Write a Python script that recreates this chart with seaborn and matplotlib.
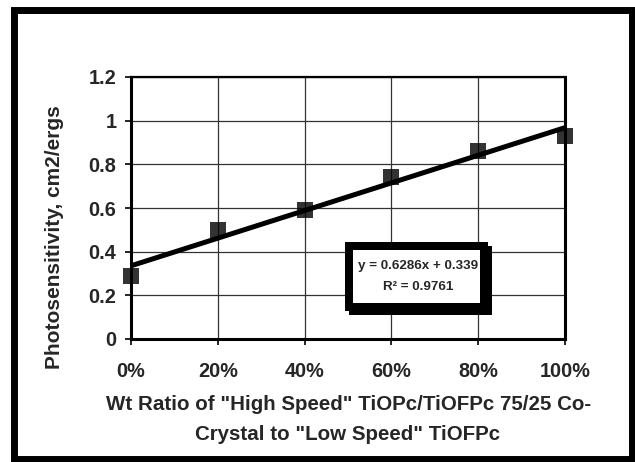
import numpy as np
import seaborn as sns
import matplotlib.pyplot as plt
from matplotlib.patches import Rectangle

# data
wt_ratio = [0.0, 0.2, 0.4, 0.6, 0.8, 1.0]
photosens = [0.29, 0.50, 0.59, 0.74, 0.86, 0.93]
x_ticks = [0.0, 0.2, 0.4, 0.6, 0.8, 1.0]
x_tick_labels = ["0%", "20%", "40%", "60%", "80%", "100%"]
y_ticks = [0, 0.2, 0.4, 0.6, 0.8, 1.0, 1.2]
y_tick_labels = ["0", "0.2", "0.4", "0.6", "0.8", "1", "1.2"]
fit_text = ["y = 0.6286x + 0.339", "R\u00b2 = 0.9761"]

sns.set_style("white")
plt.rcParams['font.family'] = ['Liberation Sans', 'DejaVu Sans']
plt.rcParams['font.weight'] = 'bold'

W, H = 635, 462
fig = plt.figure(figsize=(W / 100, H / 100), dpi=100)


def fx(px):
    return px / W


def fy(py):
    return 1 - py / H


ax = fig.add_axes([fx(131), fy(339), fx(565 - 131), (339 - 77) / H])

sns.regplot(x=wt_ratio, y=photosens, ci=None, marker='s', ax=ax,
            scatter_kws=dict(s=145, color='black', clip_on=False, zorder=4, linewidths=0),
            line_kws=dict(color='black', lw=3.6, zorder=3))

ax.set_xlim(0, 1)
ax.set_ylim(0, 1.2)
ax.set_xticks(x_ticks)
ax.set_xticklabels(x_tick_labels, fontsize=14.3, fontweight='bold')
ax.set_yticks(y_ticks)
ax.set_yticklabels(y_tick_labels, fontsize=14.3, fontweight='bold')
ax.tick_params(axis='both', direction='out', length=4.5, width=1.2, color='black',
               bottom=True, left=True)
ax.tick_params(axis='x', pad=12)
ax.tick_params(axis='y', pad=6)
ax.grid(True, color='#333333', lw=0.9)
ax.set_axisbelow(True)
for side, lw in [('left', 2.2), ('bottom', 2.2), ('top', 1.6), ('right', 2.2)]:
    ax.spines[side].set_visible(True)
    ax.spines[side].set_color('black')
    ax.spines[side].set_linewidth(lw)

# equation box with shadow
bx0, bx1, by0, by1 = 349, 484, 246, 307
shadow = Rectangle((fx(bx0 + 4), fy(by1 + 4)), fx(bx1 - bx0), (by1 - by0) / H,
                   transform=fig.transFigure, facecolor='black', edgecolor='black',
                   lw=5.76, zorder=10)
box = Rectangle((fx(bx0), fy(by1)), fx(bx1 - bx0), (by1 - by0) / H,
                transform=fig.transFigure, facecolor='white', edgecolor='black',
                lw=5.76, zorder=11)
fig.patches.extend([shadow, box])
fig.text(fx(418), fy(266), fit_text[0], ha='center', va='center', fontsize=9.6,
         fontweight='bold', zorder=12)
fig.text(fx(418), fy(287), fit_text[1], ha='center', va='center', fontsize=9.6,
         fontweight='bold', zorder=12)

# axis titles
fig.text(fx(55), fy(237), "Photosensitivity, cm2/ergs", rotation=90, ha='center',
         va='center', fontsize=15, fontweight='bold')
fig.text(fx(349), fy(405), 'Wt Ratio of "High Speed" TiOPc/TiOFPc 75/25 Co-',
         ha='center', va='center', fontsize=14.8, fontweight='bold')
fig.text(fx(348), fy(435), 'Crystal to "Low Speed" TiOFPc',
         ha='center', va='center', fontsize=14.8, fontweight='bold')

# outer frame
frame = Rectangle((fx(13.5), fy(459)), fx(632 - 13.5), (459 - 10) / H,
                  transform=fig.transFigure, fill=False, edgecolor='black', lw=5.0)
fig.patches.append(frame)

fig.savefig("out.png", dpi=100)
